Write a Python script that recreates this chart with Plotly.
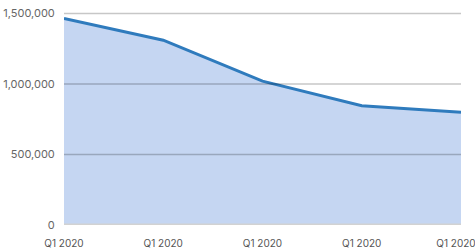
import plotly.graph_objects as go

categories = ["Q1 2020", "Q1 2020", "Q1 2020", "Q1 2020", "Q1 2020"]
values = [1465000, 1310000, 1020000, 845000, 800000]
y_ticks = [0, 500000, 1000000, 1500000]
y_tick_labels = ["0", "500,000", "1,000,000", "1,500,000"]

x_idx = list(range(len(categories)))

fig = go.Figure()
fig.add_trace(go.Scatter(
    x=x_idx, y=values, mode="lines", fill="tozeroy",
    fillcolor="#c5d6f2", line=dict(color="#2f7bbd", width=3),
    hoverinfo="skip",
))
# invisible helper trace so the second x axis (last label, nudged to fit) renders
fig.add_trace(go.Scatter(
    x=x_idx[-1:], y=values[-1:], xaxis="x2", mode="markers",
    marker=dict(opacity=0), hoverinfo="skip",
))

# gridlines drawn above the fill, at the tick values
for v in y_ticks:
    if v == 0:
        fig.add_shape(type="line", xref="paper", yref="y", x0=0, x1=1, y0=v, y1=v,
                      line=dict(color="#d2d2d2", width=3), layer="above")
    else:
        fig.add_shape(type="line", xref="paper", yref="y", x0=0, x1=1, y0=v, y1=v,
                      line=dict(color="rgba(0,0,0,0.22)", width=1.5), layer="above")

xcommon = dict(
    range=[0, 4], automargin=False,
    showgrid=False, zeroline=False, showline=False,
    ticks="outside", ticklen=9, tickcolor="rgba(0,0,0,0)",
    tickfont=dict(size=10, color="#555555"), ticklabeloverflow="allow",
)

fig.update_layout(
    width=475, height=249,
    margin=dict(l=64, r=14, t=12, b=24),
    paper_bgcolor="white", plot_bgcolor="white",
    showlegend=False,
    font=dict(family="Inter, Roboto, sans-serif", size=11, color="#555555"),
    xaxis=dict(tickvals=x_idx[:-1], ticktext=categories[:-1], **xcommon),
    xaxis2=dict(tickvals=x_idx[-1:], ticktext=categories[-1:], overlaying="x",
                side="bottom", ticklabelshift=-5, **xcommon),
    yaxis=dict(
        range=[0, 1510000], tickvals=y_ticks, ticktext=y_tick_labels, automargin=False,
        showgrid=False, zeroline=False, showline=False,
        ticks="outside", ticklen=6, tickcolor="rgba(0,0,0,0)",
        tickfont=dict(size=11, color="#666666"),
    ),
)

fig.write_html("out.html", config={"displayModeBar": False},
               post_script="document.body.style.margin='0';")
